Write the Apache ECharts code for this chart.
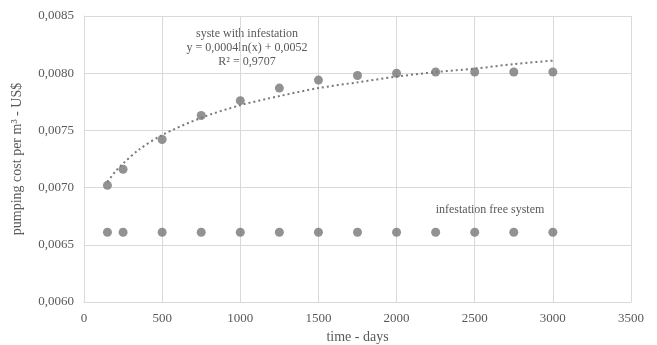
<!DOCTYPE html>
<html>
<head>
<meta charset="utf-8">
<script src="https://cdn.jsdelivr.net/npm/echarts@6/dist/echarts.min.js"></script>
<style>
  html, body { margin: 0; padding: 0; background: #fff; }
  #chart { width: 657px; height: 345px; }
</style>
</head>
<body>
<div id="chart"></div>
<script>
// days
const days = [150, 250, 500, 750, 1000, 1250, 1500, 1750, 2000, 2250, 2500, 2750, 3000];
// pumping cost, system with infestation
const infested = [0.00702, 0.00716, 0.00742, 0.00763, 0.00776, 0.00787, 0.00794, 0.00798, 0.00800, 0.00801, 0.00801, 0.00801, 0.00801];
// pumping cost, infestation free system
const clean = [0.00661, 0.00661, 0.00661, 0.00661, 0.00661, 0.00661, 0.00661, 0.00661, 0.00661, 0.00661, 0.00661, 0.00661, 0.00661];
// log trendline
const trendDays = [150, 200, 250, 350, 500, 750, 1000, 1250, 1500, 1750, 2000, 2250, 2500, 2750, 3000];
const trendVals = [0.00705, 0.00714, 0.00721, 0.00733, 0.00746, 0.00761, 0.00772, 0.00780, 0.00787, 0.00792, 0.00797, 0.00801, 0.00804, 0.00808, 0.00811];

const pair = (xs, ys) => xs.map((x, i) => [x, ys[i]]);
const grey = '#595959';
const font = '"Liberation Serif", "Times New Roman", serif';

const chart = echarts.init(document.getElementById('chart'));
chart.setOption({
    animation: false,
    textStyle: { fontFamily: font },
    grid: { left: 84, right: 26, top: 16, bottom: 43, outerBoundsMode: 'none' },
    xAxis: {
        type: 'value',
        min: 0, max: 3500, interval: 500,
        name: 'time - days',
        nameLocation: 'middle',
        nameGap: 26,
        nameTextStyle: { color: grey, fontSize: 14, fontFamily: font },
        axisLine: { lineStyle: { color: '#d9d9d9' } },
        axisTick: { show: false },
        axisLabel: { color: grey, fontSize: 13, fontFamily: font, margin: 10, formatter: v => String(v) },
        splitLine: { show: true, lineStyle: { color: '#d9d9d9' } }
    },
    yAxis: {
        type: 'value',
        min: 0.0060, max: 0.0085, interval: 0.0005,
        name: 'pumping cost per m³ - US$',
        nameLocation: 'middle',
        nameGap: 60,
        nameTextStyle: { color: grey, fontSize: 14, fontFamily: font },
        axisLine: { show: true, lineStyle: { color: '#d9d9d9' } },
        axisTick: { show: false },
        axisLabel: {
            color: grey, fontSize: 13, fontFamily: font, margin: 10,
            formatter: v => v.toFixed(4).replace('.', ',')
        },
        splitLine: { show: true, lineStyle: { color: '#d9d9d9' } }
    },
    series: [
        {
            name: 'trend',
            type: 'line',
            data: pair(trendDays, trendVals),
            smooth: 0.3,
            showSymbol: false,
            lineStyle: { color: '#7a7a7a', width: 2, type: [2, 3] },
            z: 1
        },
        {
            name: 'syste with infestation',
            type: 'scatter',
            data: pair(days, infested),
            symbolSize: 9,
            itemStyle: { color: '#777777' },
            z: 2
        },
        {
            name: 'infestation free system',
            type: 'scatter',
            data: pair(days, clean),
            symbolSize: 9,
            itemStyle: { color: '#777777' },
            z: 2
        }
    ],
    graphic: [
        {
            type: 'text', x: 247, y: 27,
            style: {
                text: 'syste with infestation\ny = 0,0004ln(x) + 0,0052\nR² = 0,9707',
                fill: grey, font: '12px ' + font, align: 'center', lineHeight: 14
            }
        },
        {
            type: 'text', x: 490, y: 204,
            style: {
                text: 'infestation free system',
                fill: grey, font: '12px ' + font, align: 'center'
            }
        }
    ]
});
</script>
</body>
</html>
